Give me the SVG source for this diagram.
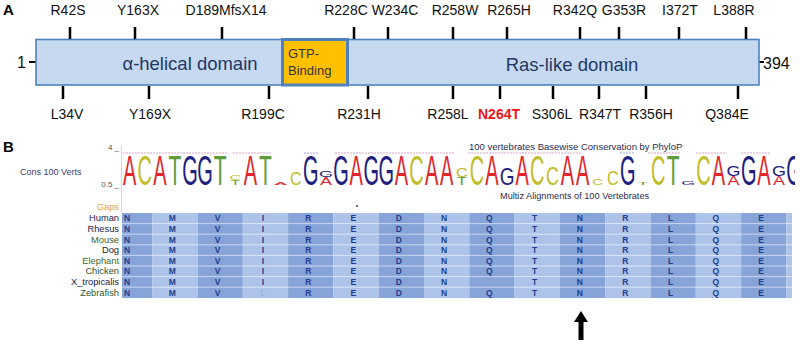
<svg xmlns="http://www.w3.org/2000/svg" width="800" height="346" viewBox="0 0 800 346">
<defs>
<style>
text{font-family:"Liberation Sans",Arial,sans-serif}
.lbl{font-size:14px;fill:#111;text-anchor:middle}
.tick{stroke:#000;stroke-width:2.5}
.dom{font-size:18.5px;fill:#1F3864;text-anchor:middle}
.pl{font-size:15px;font-weight:bold;fill:#000}
.lg{font-size:10px;text-anchor:middle}
.A{fill:#e0262b}.C{fill:#c2bd2a}.G{fill:#20207f}.T{fill:#5f9c3c}
.aa{font-size:8.5px;font-weight:bold;fill:#1f3d8f;text-anchor:middle}
.sp{font-size:9.3px;text-anchor:end}
.dk{fill:#87a4d9}.lt{fill:#adc3ea}
.dash{stroke-width:1;stroke-dasharray:2 1;fill:none}
</style>
<clipPath id="cut"><rect x="0" y="0" width="795" height="346"/></clipPath>
</defs>
<rect width="800" height="346" fill="#fff"/>

<!-- Panel A -->
<text class="pl" x="3" y="15">A</text>
<g id="protein">
  <line x1="29" y1="62" x2="36" y2="62" stroke="#000" stroke-width="2"/>
  <line x1="759" y1="62" x2="764" y2="62" stroke="#000" stroke-width="2"/>
  <text x="26" y="68" font-size="16" fill="#111" text-anchor="end">1</text>
  <text x="763" y="69" font-size="16" fill="#111">394</text>
  <rect x="36" y="39.5" width="723" height="45.5" fill="#C6D9F1" stroke="#4F81BD" stroke-width="1.6"/>
</g>
<g id="alpha-helical">
  <text class="dom" x="190" y="70">α-helical domain</text>
</g>
<g id="gtp-binding">
  <rect x="282.5" y="39.5" width="65" height="45.5" fill="#FFC000" stroke="#4F81BD" stroke-width="3"/>
  <text x="288" y="58" font-size="13" fill="#333">GTP-</text>
  <text x="288" y="75" font-size="13" fill="#333">Binding</text>
</g>
<g id="ras-like">
  <text class="dom" x="572" y="71">Ras-like domain</text>
</g>
<g id="mutations-top">
  <line class="tick" x1="70" y1="27" x2="70" y2="39"/><text class="lbl" x="68" y="15">R42S</text>
  <line class="tick" x1="135" y1="27" x2="135" y2="39"/><text class="lbl" x="138" y="15">Y163X</text>
  <line class="tick" x1="222" y1="27" x2="222" y2="39"/><text class="lbl" x="226" y="15">D189MfsX14</text>
  <line class="tick" x1="354" y1="27" x2="354" y2="39"/><text class="lbl" x="346" y="15">R228C</text>
  <line class="tick" x1="388" y1="27" x2="388" y2="39"/><text class="lbl" x="395" y="15">W234C</text>
  <line class="tick" x1="453" y1="27" x2="453" y2="39"/><text class="lbl" x="455" y="15">R258W</text>
  <line class="tick" x1="507" y1="27" x2="507" y2="39"/><text class="lbl" x="509" y="15">R265H</text>
  <line class="tick" x1="580" y1="27" x2="580" y2="39"/><text class="lbl" x="575" y="15">R342Q</text>
  <line class="tick" x1="619" y1="27" x2="619" y2="39"/><text class="lbl" x="624" y="15">G353R</text>
  <line class="tick" x1="679" y1="27" x2="679" y2="39"/><text class="lbl" x="680" y="15">I372T</text>
  <line class="tick" x1="746" y1="27" x2="746" y2="39"/><text class="lbl" x="734" y="15">L388R</text>
</g>
<g id="mutations-bottom">
  <line class="tick" x1="63" y1="86" x2="63" y2="99"/><text class="lbl" x="67" y="119">L34V</text>
  <line class="tick" x1="149" y1="86" x2="149" y2="99"/><text class="lbl" x="150" y="119">Y169X</text>
  <line class="tick" x1="269" y1="86" x2="269" y2="99"/><text class="lbl" x="263" y="119">R199C</text>
  <line class="tick" x1="368" y1="86" x2="368" y2="99"/><text class="lbl" x="359" y="119">R231H</text>
  <line class="tick" x1="453" y1="86" x2="453" y2="99"/><text class="lbl" x="448" y="119">R258L</text>
  <line class="tick" x1="500" y1="86" x2="500" y2="99"/><text class="lbl" x="499" y="119" fill="#e8161b" font-weight="bold" style="fill:#e8161b">N264T</text>
  <line class="tick" x1="553" y1="86" x2="553" y2="99"/><text class="lbl" x="552" y="119">S306L</text>
  <line class="tick" x1="599" y1="86" x2="599" y2="99"/><text class="lbl" x="600" y="119">R347T</text>
  <line class="tick" x1="646" y1="86" x2="646" y2="99"/><text class="lbl" x="651" y="119">R356H</text>
  <line class="tick" x1="738" y1="86" x2="738" y2="99"/><text class="lbl" x="727" y="119">Q384E</text>
</g>

<!-- Panel B -->
<text class="pl" x="3" y="152">B</text>
<g id="logo-axis">
  <line x1="121.5" y1="145" x2="121.5" y2="213" stroke="#d8d8d8" stroke-width="1"/>
  <text x="119" y="150" font-size="8" fill="#555" text-anchor="end">4 _</text>
  <text x="119" y="187" font-size="8" fill="#555" text-anchor="end">0.5 _</text>
  <text x="20" y="175" font-size="9" fill="#3c3c6e">Cons 100 Verts</text>
  <text x="469" y="150" font-size="9.5" fill="#2b2b50">100 vertebrates Basewise Conservation by PhyloP</text>
  <text x="500" y="199" font-size="9.2" fill="#2b2b50">Multiz Alignments of 100 Vertebrates</text>
</g>
<g id="logo-dashes">
  <line class="dash" x1="123" y1="153" x2="227" y2="153" stroke="#d9a3c6"/>
  <line class="dash" x1="233" y1="153" x2="272" y2="153" stroke="#d9a3c6"/>
  <line class="dash" x1="304" y1="153" x2="318" y2="153" stroke="#a3a8d9"/>
  <line class="dash" x1="335" y1="153" x2="455" y2="153" stroke="#d9a3c6"/>
  <line class="dash" x1="468" y1="153" x2="582" y2="153" stroke="#d9a3c6"/>
  <line class="dash" x1="620" y1="153" x2="635" y2="153" stroke="#a3a8d9"/>
  <line class="dash" x1="648" y1="153" x2="681" y2="153" stroke="#d9a3c6"/>
  <line class="dash" x1="696" y1="153" x2="727" y2="153" stroke="#d9a3c6"/>
  <line class="dash" x1="741" y1="153" x2="771" y2="153" stroke="#d9a3c6"/>
</g>
<g id="logo">
  <text class="lg A" transform="translate(129.6,185) scale(2,4.19)">A</text>
  <text class="lg C" transform="translate(144.7,185) scale(2,4.19)">C</text>
  <text class="lg A" transform="translate(159.8,185) scale(2,4.19)">A</text>
  <text class="lg T" transform="translate(174.9,185) scale(2.1,4.19)">T</text>
  <text class="lg G" transform="translate(190,185) scale(2,4.19)">G</text>
  <text class="lg G" transform="translate(205.1,185) scale(2,4.19)">G</text>
  <text class="lg T" transform="translate(220.2,185) scale(2.1,4.19)">T</text>
  <text class="lg T" transform="translate(235.3,185) scale(1.6,0.7)">T</text>
  <text class="lg C" transform="translate(235.3,180) scale(1.6,0.7)">C</text>
  <text class="lg A" transform="translate(250.4,185) scale(2,4.19)">A</text>
  <text class="lg T" transform="translate(265.5,185) scale(2.1,4.19)">T</text>
  <text class="lg A" transform="translate(280.6,185) scale(2,0.42)">A</text>
  <text class="lg C" transform="translate(295.7,185) scale(1.6,1.82)">C</text>
  <text class="lg G" transform="translate(310.8,185) scale(2,4.19)">G</text>
  <text class="lg A" transform="translate(325.9,185) scale(1.8,1.12)">A</text>
  <text class="lg G" transform="translate(325.9,177) scale(1.8,0.98)">G</text>
  <text class="lg G" transform="translate(341,185) scale(2,4.19)">G</text>
  <text class="lg A" transform="translate(356.1,185) scale(2,4.19)">A</text>
  <text class="lg G" transform="translate(371.2,185) scale(2,4.19)">G</text>
  <text class="lg G" transform="translate(386.3,185) scale(2,4.19)">G</text>
  <text class="lg A" transform="translate(401.4,185) scale(2,4.19)">A</text>
  <text class="lg C" transform="translate(416.5,185) scale(2,4.19)">C</text>
  <text class="lg A" transform="translate(431.6,185) scale(2,4.19)">A</text>
  <text class="lg A" transform="translate(446.7,185) scale(2,4.19)">A</text>
  <text class="lg T" transform="translate(461.8,185) scale(1.7,1.12)">T</text>
  <text class="lg C" transform="translate(461.8,177) scale(1.7,1.26)">C</text>
  <text class="lg C" transform="translate(476.9,185) scale(2,4.19)">C</text>
  <text class="lg A" transform="translate(492,185) scale(2,4.19)">A</text>
  <text class="lg G" transform="translate(507.1,185) scale(1.9,2.37)">G</text>
  <text class="lg A" transform="translate(522.2,185) scale(2,4.19)">A</text>
  <text class="lg C" transform="translate(537.3,185) scale(2,4.19)">C</text>
  <text class="lg C" transform="translate(552.4,185) scale(1.8,2.51)">C</text>
  <text class="lg A" transform="translate(567.5,185) scale(2,4.19)">A</text>
  <text class="lg A" transform="translate(582.6,185) scale(2,4.19)">A</text>
  <text class="lg C" transform="translate(597.7,185) scale(1.5,0.98)">C</text>
  <text class="lg C" transform="translate(612.8,185) scale(1.6,1.96)">C</text>
  <text class="lg G" transform="translate(627.9,185) scale(2,4.19)">G</text>
  <text class="lg T" transform="translate(643,185) scale(1.8,0.42)">T</text>
  <text class="lg C" transform="translate(658.1,185) scale(2,4.19)">C</text>
  <text class="lg T" transform="translate(673.2,185) scale(2.1,4.19)">T</text>
  <text class="lg G" transform="translate(688.3,185) scale(1.8,0.56)">G</text>
  <text class="lg C" transform="translate(703.4,185) scale(2,4.19)">C</text>
  <text class="lg A" transform="translate(718.5,185) scale(2,4.19)">A</text>
  <text class="lg A" transform="translate(733.6,185) scale(1.8,1.26)">A</text>
  <text class="lg G" transform="translate(733.6,176) scale(1.8,1.4)">G</text>
  <text class="lg G" transform="translate(748.7,185) scale(2,4.19)">G</text>
  <text class="lg A" transform="translate(763.8,185) scale(2,4.19)">A</text>
  <text class="lg A" transform="translate(778.9,185) scale(1.8,1.26)">A</text>
  <text class="lg G" transform="translate(778.9,176) scale(1.8,1.54)">G</text>
  <g clip-path="url(#cut)"><text class="lg G" transform="translate(794,185) scale(2,4.19)">G</text></g>
</g>
<g id="alignment-table">
  <text class="sp" x="119" y="210" style="fill:#e8a03c">Gaps</text>
  <circle cx="357" cy="206" r="0.9" fill="#333"/>
  <rect class="dk" x="122" y="213" width="30.2" height="85"/>
  <rect class="lt" x="152.2" y="213" width="45.3" height="85"/>
  <rect class="dk" x="197.5" y="213" width="45.3" height="85"/>
  <rect class="lt" x="242.8" y="213" width="45.3" height="85"/>
  <rect class="dk" x="288.1" y="213" width="45.3" height="85"/>
  <rect class="lt" x="333.4" y="213" width="45.3" height="85"/>
  <rect class="dk" x="378.7" y="213" width="45.3" height="85"/>
  <rect class="lt" x="424" y="213" width="45.3" height="85"/>
  <rect class="dk" x="469.3" y="213" width="45.3" height="85"/>
  <rect class="lt" x="514.6" y="213" width="45.3" height="85"/>
  <rect class="dk" x="559.9" y="213" width="45.3" height="85"/>
  <rect class="lt" x="605.2" y="213" width="45.3" height="85"/>
  <rect class="dk" x="650.5" y="213" width="45.3" height="85"/>
  <rect class="lt" x="695.8" y="213" width="45.3" height="85"/>
  <rect class="dk" x="741.1" y="213" width="45.3" height="85"/>
  <rect class="lt" x="786.4" y="213" width="5.6" height="85"/>
  <g stroke="#ffffff" stroke-opacity="0.55" stroke-width="1">
    <line x1="122" y1="223.6" x2="792" y2="223.6"/>
    <line x1="122" y1="234.2" x2="792" y2="234.2"/>
    <line x1="122" y1="244.8" x2="792" y2="244.8"/>
    <line x1="122" y1="255.4" x2="792" y2="255.4"/>
    <line x1="122" y1="266" x2="792" y2="266"/>
    <line x1="122" y1="276.6" x2="792" y2="276.6"/>
    <line x1="122" y1="287.2" x2="792" y2="287.2"/>
  </g>
  <text class="sp" x="119" y="221.3" fill="#1a1a4e">Human</text>
  <text class="sp" x="119" y="231.9" fill="#1a1a4e">Rhesus</text>
  <text class="sp" x="119" y="242.5" fill="#3b5e2b">Mouse</text>
  <text class="sp" x="119" y="253.1" fill="#1a1a2a">Dog</text>
  <text class="sp" x="119" y="263.7" fill="#3d6b2f">Elephant</text>
  <text class="sp" x="119" y="274.3" fill="#2f4f2f">Chicken</text>
  <text class="sp" x="119" y="284.9" fill="#1a1a4e">X_tropicalis</text>
  <text class="sp" x="119" y="295.5" fill="#2f5a2a">Zebrafish</text>
  <text class="aa" x="127 172.3 217.6 262.9 308.2 353.4 398.7 444 489.3 534.6 579.9 625.2 670.5 715.8 761" y="221.3">NMVIREDNQTNRLQE</text>
  <text class="aa" x="127 172.3 217.6 262.9 308.2 353.4 398.7 444 489.3 534.6 579.9 625.2 670.5 715.8 761" y="231.9">NMVIREDNQTNRLQE</text>
  <text class="aa" x="127 172.3 217.6 262.9 308.2 353.4 398.7 444 489.3 534.6 579.9 625.2 670.5 715.8 761" y="242.5">NMVIREDNQTNRLQE</text>
  <text class="aa" x="127 172.3 217.6 262.9 308.2 353.4 398.7 444 489.3 534.6 579.9 625.2 670.5 715.8 761" y="253.1">NMVIREDNQTNRLQE</text>
  <text class="aa" x="127 172.3 217.6 262.9 308.2 353.4 398.7 444 489.3 534.6 579.9 625.2 670.5 715.8 761" y="263.7">NMVIREDNQTNRLQE</text>
  <text class="aa" x="127 172.3 217.6 262.9 308.2 353.4 398.7 444 489.3 534.6 579.9 625.2 670.5 715.8 761" y="274.3">NMVIREDNQTNRLQE</text>
  <text class="aa" x="127 172.3 217.6 262.9 308.2 353.4 398.7 444 489.3 534.6 579.9 625.2 670.5 715.8 761" y="284.9">NMVIREDN<tspan style="fill:#9aa6bf;font-weight:normal">H</tspan>TNRLQE</text>
  <text class="aa" x="127 172.3 217.6 262.9 308.2 353.4 398.7 444 489.3 534.6 579.9 625.2 670.5 715.8 761" y="295.5">NMV<tspan style="fill:#a3adc4;font-weight:normal">L</tspan>REDNQTNRLQE</text>
</g>
<g id="arrow">
  <polygon points="581,311 574,322 578.5,322 578.5,340 583.5,340 583.5,322 588,322" fill="#000"/>
</g>
</svg>
